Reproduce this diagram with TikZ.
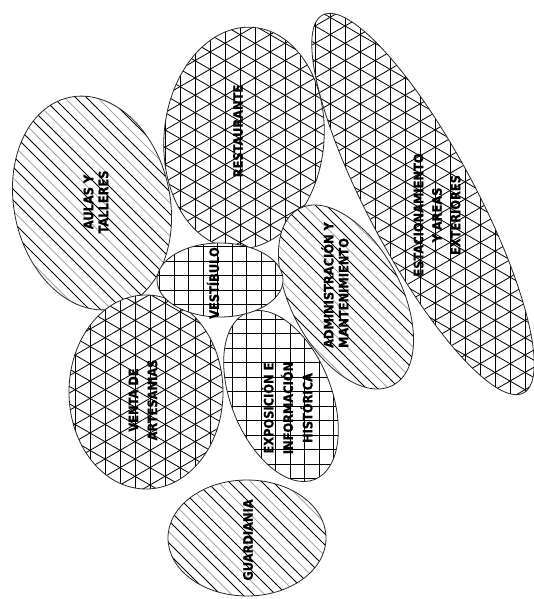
\documentclass[tikz,border=0pt]{standalone}
\usepackage{fontspec}
\setmainfont{DejaVu Sans}
\newfontfamily\lblfont{DejaVu Sans}[FakeStretch=0.88, FakeBold=0.6]
\tikzset{
  hl/.style={line width=0.8pt},
  hd/.style={line width=1pt},
  outl/.style={draw=black!85, line width=0.8pt},
  lbl/.style={rotate=90, align=center, inner sep=0pt, text=black,
    font=\lblfont\fontsize{13}{15}\selectfont\bfseries},
}
% diagonal hatch: lines y = x + c (image coords, y down)
\newcommand\hatchD[3]{%
  \pgfmathtruncatemacro\hjmin{floor(((#2)-(#3)-(#1)-(#3))/11)}%
  \pgfmathtruncatemacro\hjmax{ceil(((#2)+(#3)-(#1)+(#3))/11)}%
  \foreach \j in {\hjmin,...,\hjmax}{%
    \pgfmathsetmacro\hcc{\j*11}%
    \pgfmathtruncatemacro\hmm{mod(abs(\j),3)}%
    \ifnum\hmm=0 \def\hcol{black!35}\else\def\hcol{black}\fi
    \draw[hd,draw=\hcol] ({#1-#3},{#1-#3+\hcc}) -- ({#1+#3},{#1+#3+\hcc});
  }}
% square grid
\newcommand\gridS[3]{%
  \pgfmathtruncatemacro\gimin{floor(((#1)-(#3))/14.5)}%
  \pgfmathtruncatemacro\gimax{ceil(((#1)+(#3))/14.5)}%
  \pgfmathtruncatemacro\gjmin{floor(((#2)-(#3))/14.5)}%
  \pgfmathtruncatemacro\gjmax{ceil(((#2)+(#3))/14.5)}%
  \foreach \i in {\gimin,...,\gimax}{\draw[hl] ({\i*14.5},{#2-#3}) -- ({\i*14.5},{#2+#3});}
  \foreach \j in {\gjmin,...,\gjmax}{\draw[hl] ({#1-#3},{\j*14.5}) -- ({#1+#3},{\j*14.5});}
}
% triangular grid (vertical lines + lines at +-30 deg)
\newcommand\gridT[3]{%
  \pgfmathtruncatemacro\timin{floor(((#1)-(#3))/15)}%
  \pgfmathtruncatemacro\timax{ceil(((#1)+(#3))/15)}%
  \foreach \i in {\timin,...,\timax}{\draw[hl] ({\i*15},{#2-#3}) -- ({\i*15},{#2+#3});}
  \pgfmathtruncatemacro\tamin{floor(((#2)-(#3)-((#1)+(#3))*0.57735)/17.3205)}%
  \pgfmathtruncatemacro\tamax{ceil(((#2)+(#3)-((#1)-(#3))*0.57735)/17.3205)}%
  \foreach \j in {\tamin,...,\tamax}{%
    \draw[hl] ({#1-#3},{(#1-#3)*0.57735+\j*17.3205}) -- ({#1+#3},{(#1+#3)*0.57735+\j*17.3205});}
  \pgfmathtruncatemacro\tbmin{floor(((#2)-(#3)+((#1)-(#3))*0.57735)/17.3205)}%
  \pgfmathtruncatemacro\tbmax{ceil(((#2)+(#3)+((#1)+(#3))*0.57735)/17.3205)}%
  \foreach \j in {\tbmin,...,\tbmax}{%
    \draw[hl] ({#1-#3},{-(#1-#3)*0.57735+\j*17.3205}) -- ({#1+#3},{-(#1+#3)*0.57735+\j*17.3205});}
}
% bubble: cx, cy, x radius, y radius, rotation, pattern macro
\newcommand\bubble[6]{%
  \begin{scope}
    \fill[white, rotate around={#5:(#1,#2)}] (#1,#2) ellipse [x radius=#3, y radius=#4];
    \clip[rotate around={#5:(#1,#2)}] (#1,#2) ellipse [x radius=#3, y radius=#4];
    \pgfmathsetmacro\bR{max(#3,#4)+4}%
    #6{#1}{#2}{\bR}
  \end{scope}
  \draw[outl, rotate around={#5:(#1,#2)}] (#1,#2) ellipse [x radius=#3, y radius=#4];
}
\begin{document}
\begin{tikzpicture}[x=1pt,y=-1pt]
  \useasboundingbox (0,0) rectangle (534,599);
  \fill[white] (0,0) rectangle (534,599);
  % bubbles
  \bubble{423}{204}{54}{214}{28}{\gridT}
  \bubble{244}{138}{80}{111}{-5}{\gridT}
  \bubble{92}{203}{78}{108}{12}{\hatchD}
  \bubble{346}{297}{55}{100}{28}{\hatchD}
  \bubble{281}{396}{50}{90}{22}{\gridS}
  \bubble{146}{392}{77}{97}{0}{\gridT}
  \bubble{220}{280}{63}{37}{0}{\gridS}
  \bubble{247}{538}{79}{58}{0}{\hatchD}
  % labels
  \node[lbl] (aulas) at (96,202) {AULAS Y\\TALLERES};
  \node[lbl] (rest) at (238,131) {RESTAURANTE};
  \node[lbl, font=\lblfont\fontsize{13}{18.5}\selectfont\bfseries] (estac) at (437,215) {ESTACIONAMIENTO\\Y AREAS\\EXTERIORES};
  \node[lbl] (vest) at (213,283) {VESTÍBULO};
  \node[lbl, align=left] (admin) at (335,285) {ADMINISTRACIÓN Y\\MANTENIMIENTO};
  \node[lbl, font=\lblfont\fontsize{13}{19}\selectfont\bfseries] (venta) at (143,400) {VENTA DE\\ARTESANIAS};
  \node[lbl, font=\lblfont\fontsize{13}{19.5}\selectfont\bfseries] (expo) at (287,408) {EXPOSICIÓN E\\INFORMACIÓN\\HISTÓRICA};
  \node[lbl] (guard) at (248,540) {GUARDIANIA};
\end{tikzpicture}
\end{document}
